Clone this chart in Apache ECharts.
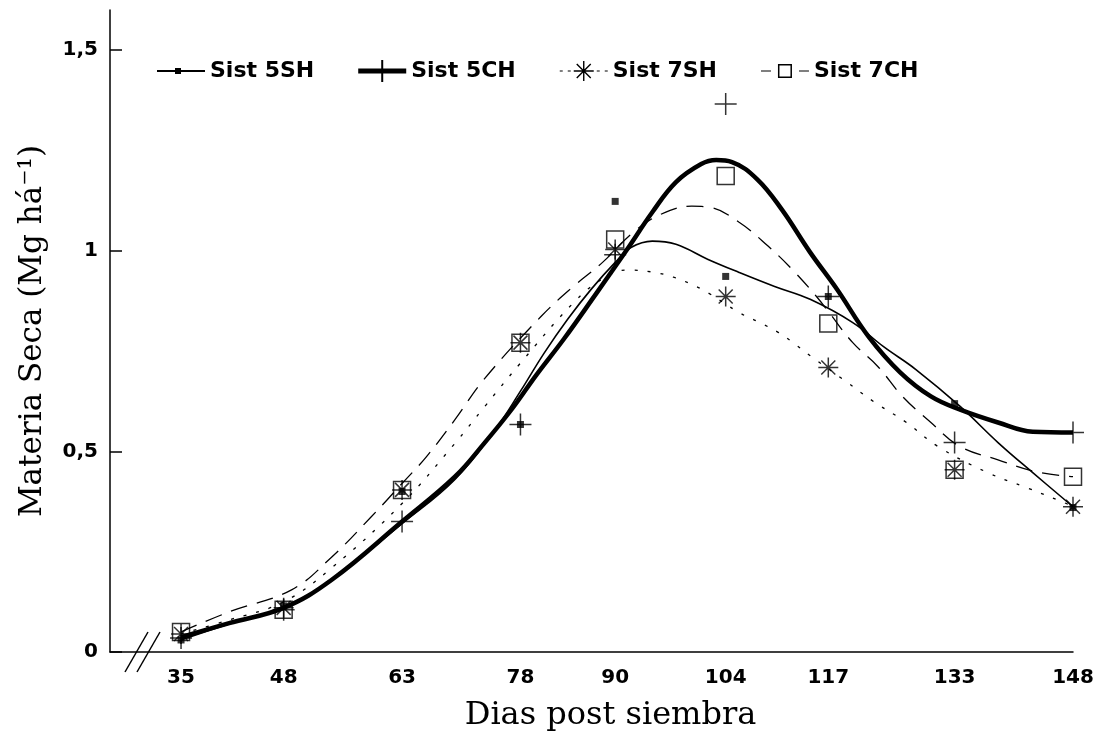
<!DOCTYPE html>
<html>
<head>
<meta charset="utf-8" />
<title>Materia Seca</title>
<script type="text/javascript" src="https://cdn.jsdelivr.net/npm/echarts@6/dist/echarts.min.js"></script>
<style>
  html, body { margin: 0; padding: 0; background: #fff; }
  #chart { width: 1099px; height: 741px; }
</style>
</head>
<body>
<div id="chart"></div>
<script type="text/javascript">
// dias post siembra (muestreos)
var dias = [35, 48, 63, 78, 90, 104, 117, 133, 148];
var yTicks = [0, 0.5, 1, 1.5];

// valores medidos (Mg/ha)
var sist5SH = [0.03, 0.115, 0.40, 0.567, 1.123, 0.936, 0.886, 0.619, 0.36];
var sist5CH = [0.035, 0.105, 0.325, 0.567, 0.99, 1.366, 0.886, 0.522, 0.547];
var sist7SH = [0.045, 0.11, 0.404, 0.771, 1.003, 0.886, 0.709, 0.454, 0.362];
var sist7CH = [0.05, 0.105, 0.404, 0.771, 1.028, 1.186, 0.819, 0.454, 0.437];

// curvas ajustadas [dia, valor]
var curva5SH = [[35,0.03],[41.1,0.07],[48,0.11],[54.1,0.18],[63,0.32],[69.7,0.43],[75,0.56],[78,0.65],[81,0.745],[84,0.83],[87,0.905],[90,0.971],[92,1.008],[94.7,1.024],[97.7,1.016],[101.7,0.979],[105.7,0.946],[110.2,0.911],[114.7,0.879],[120.1,0.821],[124,0.761],[128.1,0.704],[133.7,0.612],[138.5,0.522],[142.9,0.447],[148,0.362]];
var curva5CH = [[35,0.037],[41.1,0.072],[48,0.11],[54.1,0.18],[63,0.325],[69.7,0.437],[73.4,0.52],[76.9,0.605],[80,0.69],[83.5,0.78],[87.3,0.885],[91.5,1.003],[94.7,1.096],[97.7,1.171],[100.9,1.216],[102.8,1.226],[104.8,1.221],[108,1.178],[111.1,1.103],[114.7,0.996],[118.1,0.904],[122.1,0.786],[126.1,0.697],[130,0.637],[133.7,0.604],[138.5,0.572],[142.9,0.549],[148,0.547]];
var curva7SH = [[35,0.045],[41.1,0.08],[48,0.125],[54.1,0.21],[63,0.37],[69.7,0.52],[73.4,0.61],[78,0.72],[84.7,0.87],[88.4,0.93],[91.5,0.952],[94.7,0.947],[97.4,0.934],[99.7,0.916],[101.7,0.896],[105.7,0.846],[108,0.824],[110.7,0.796],[112.8,0.767],[114.8,0.737],[118.9,0.679],[122.9,0.622],[126.9,0.572],[130.9,0.512],[137.2,0.447],[142.2,0.409],[146.9,0.372],[148,0.362]];
var curva7CH = [[35,0.05],[41.1,0.1],[49,0.155],[54.1,0.237],[59.1,0.337],[63,0.42],[66.1,0.487],[69.7,0.579],[73.4,0.68],[80.6,0.836],[84.7,0.911],[88.4,0.971],[92.3,1.046],[95.8,1.091],[99.7,1.111],[102,1.108],[105.7,1.071],[109.4,1.011],[112.4,0.954],[115.5,0.886],[117.1,0.846],[120.1,0.771],[123.3,0.711],[126.4,0.637],[130,0.572],[133.7,0.512],[138.5,0.479],[143.4,0.449],[148,0.437]];

function pares(ys) {
    return dias.map(function (d, i) { return [d, ys[i]]; });
}

var myChart = echarts.init(document.getElementById('chart'));

var negro = '#000';
var sans = 'DejaVu Sans';
var serif = 'DejaVu Serif';

// simbolos
var cruz = 'path://M0,10L20,10M10,0L10,20';
var asterisco = 'path://M10,0L10,20M0,10L20,10M3,3L17,17M17,3L3,17';

// iconos de leyenda (48 x 22)
var icono5SH = 'path://M0,10L48,10L48,12L0,12Z M18,8L24,8L24,14L18,14Z';
var icono5CH = 'path://M0,8.5L48,8.5L48,13.5L0,13.5Z M23,0L25,0L25,22L23,22Z';
var icono7SH = 'path://M0,10.4L3,10.4L3,11.6L0,11.6Z M8,10.4L11,10.4L11,11.6L8,11.6Z M37,10.4L40,10.4L40,11.6L37,11.6Z M45,10.4L48,10.4L48,11.6L45,11.6Z' +
    ' M23.3,1L24.7,1L24.7,21L23.3,21Z M14,10.3L34,10.3L34,11.7L14,11.7Z' +
    ' M16.5,4.5L17.5,3.5L31.5,17.5L30.5,18.5Z M30.5,3.5L31.5,4.5L17.5,18.5L16.5,17.5Z';
var icono7CH = 'path://M0,10.4L10,10.4L10,11.6L0,11.6Z M38,10.4L48,10.4L48,11.6L38,11.6Z' +
    ' M17,4L31,4L31,18L17,18Z M18.5,5.5L18.5,16.5L29.5,16.5L29.5,5.5Z';

function curva(nombre, datos, ancho, tipo) {
    return {
        name: nombre,
        type: 'line',
        data: datos,
        smooth: 0.4,
        symbol: 'none',
        silent: true,
        lineStyle: { color: negro, width: ancho, type: tipo },
        z: 2
    };
}

function puntos(nombre, datos, simbolo, tam, relleno) {
    return {
        name: nombre,
        type: 'scatter',
        data: pares(datos),
        symbol: simbolo,
        symbolSize: tam,
        itemStyle: {
            color: relleno ? negro : 'rgba(0,0,0,0)',
            borderColor: negro,
            borderWidth: relleno ? 0 : 1.5
        },
        z: 3
    };
}

myChart.setOption({
    animation: false,
    backgroundColor: '#fff',
    grid: { left: 110, right: 26, top: 10, bottom: 89, outerBoundsMode: 'none' },
    legend: {
        left: 152,
        top: 55,
        itemWidth: 48,
        itemHeight: 22,
        itemGap: 44,
        selectedMode: false,
        itemStyle: { color: negro, borderWidth: 0 },
        textStyle: { fontFamily: sans, fontWeight: 'bold', fontSize: 22, color: negro },
        data: [
            { name: 'Sist 5SH', icon: icono5SH },
            { name: 'Sist 5CH', icon: icono5CH },
            { name: 'Sist 7SH', icon: icono7SH },
            { name: 'Sist 7CH', icon: icono7CH }
        ]
    },
    xAxis: {
        type: 'value',
        min: 26,
        max: 148,
        name: 'Dias post siembra',
        nameLocation: 'middle',
        nameGap: 48,
        nameTextStyle: { fontFamily: serif, fontSize: 32, color: negro, padding: [0, 0, 0, 38] },
        axisLine: { lineStyle: { color: negro, width: 1.5 } },
        axisTick: { show: false },
        splitLine: { show: false },
        axisLabel: {
            customValues: dias,
            margin: 16,
            fontFamily: sans,
            fontWeight: 'bold',
            fontSize: 20,
            color: negro
        }
    },
    yAxis: {
        type: 'value',
        min: 0,
        max: 1.6,
        name: 'Materia Seca (Mg há⁻¹)',
        nameLocation: 'middle',
        nameGap: 62,
        nameTextStyle: { fontFamily: serif, fontSize: 31, color: negro },
        axisLine: { show: true, lineStyle: { color: negro, width: 1.5 } },
        axisTick: { show: true, inside: true, length: 12, customValues: yTicks, lineStyle: { color: negro, width: 1.5 } },
        splitLine: { show: false },
        axisLabel: {
            customValues: yTicks,
            margin: 12,
            fontFamily: sans,
            fontWeight: 'bold',
            fontSize: 20,
            color: negro,
            formatter: function (v) { return String(v).replace('.', ','); }
        }
    },
    // marca de corte del eje x
    graphic: [
        { type: 'line', shape: { x1: 125, y1: 672, x2: 148, y2: 632 }, style: { stroke: negro, lineWidth: 1.5 } },
        { type: 'line', shape: { x1: 137, y1: 672, x2: 160, y2: 632 }, style: { stroke: negro, lineWidth: 1.5 } }
    ],
    series: [
        curva('Sist 5SH', curva5SH, 1.6, 'solid'),
        curva('Sist 5CH', curva5CH, 4.5, 'solid'),
        curva('Sist 7SH', curva7SH, 1.3, [3, 10]),
        curva('Sist 7CH', curva7CH, 1.3, [17, 10]),
        puntos('Sist 5SH', sist5SH, 'rect', 7, true),
        puntos('Sist 5CH', sist5CH, cruz, 22, false),
        puntos('Sist 7SH', sist7SH, asterisco, 20, false),
        puntos('Sist 7CH', sist7CH, 'rect', 17, false)
    ]
});
</script>
</body>
</html>
